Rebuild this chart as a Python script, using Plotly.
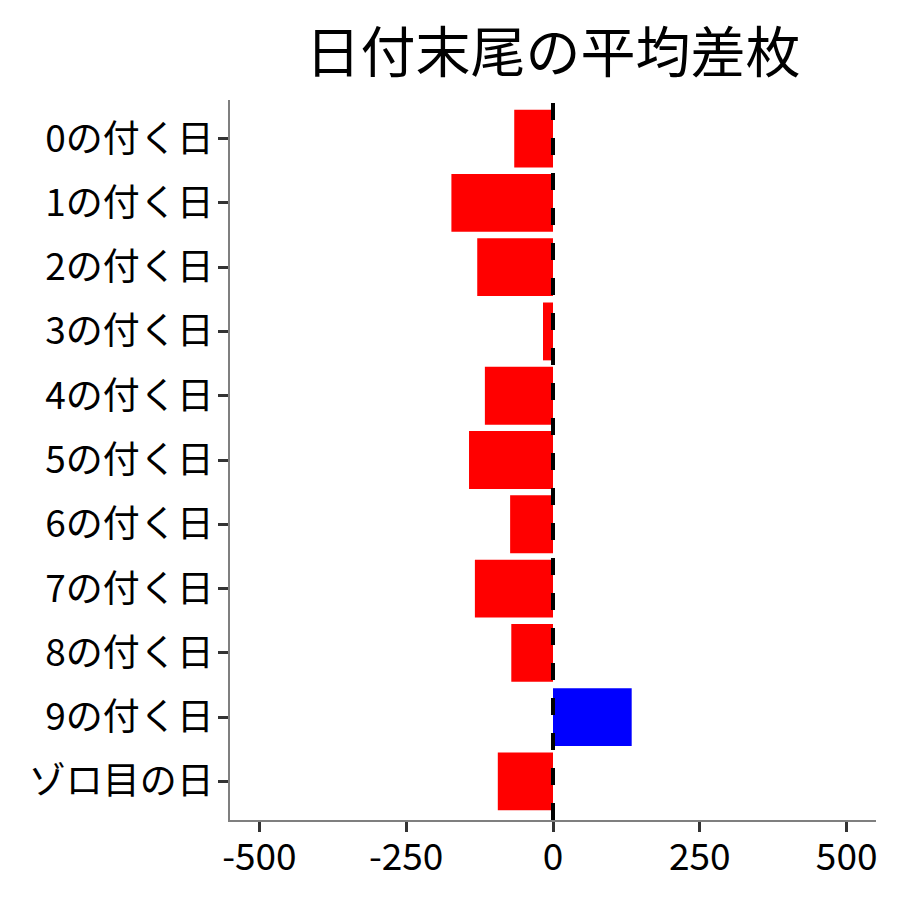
import plotly.graph_objects as go

# 日付末尾ごとの平均差枚
categories = [
    "0の付く日", "1の付く日", "2の付く日", "3の付く日", "4の付く日",
    "5の付く日", "6の付く日", "7の付く日", "8の付く日", "9の付く日",
    "ゾロ目の日",
]
avg_diff = [-66, -173, -129, -17, -116, -143, -73, -133, -71, 134, -94]
x_ticks = [-500, -250, 0, 250, 500]

FONT = "Noto Sans CJK JP"
colors = ["#0000FF" if v > 0 else "#FF0000" for v in avg_diff]

fig = go.Figure(go.Bar(
    x=avg_diff,
    y=categories,
    orientation="h",
    marker={"color": colors, "line": {"width": 0}},
    width=0.9,
    showlegend=False,
))

# zero reference line
fig.add_shape(
    type="line", xref="x", yref="paper",
    x0=0, x1=0, y0=0, y1=1,
    line={"color": "black", "width": 4, "dash": "17px,18px"},
    layer="above",
)

axis_common = dict(
    showline=True, linecolor="#7f7f7f", linewidth=1.5,
    ticks="outside", ticklen=10, tickwidth=3, tickcolor="#333333",
    showgrid=False, zeroline=False,
    tickfont={"family": FONT, "size": 37, "color": "black"},
)

fig.update_xaxes(
    range=[-550, 550], tickvals=x_ticks, ticktext=[str(t) for t in x_ticks],
    ticklabelstandoff=-6,
    **axis_common,
)
fig.update_yaxes(
    type="category", categoryorder="array", categoryarray=categories,
    range=[10.6, -0.6], ticklabelstandoff=-3,
    **axis_common,
)

fig.update_layout(
    width=900, height=900,
    title={
        "text": "日付末尾の平均差枚",
        "x": 0.5, "xref": "paper", "xanchor": "center",
        "y": 0.95, "yref": "container", "yanchor": "middle",
        "font": {"family": FONT, "size": 55, "color": "black"},
    },
    margin={"l": 222, "r": 32, "t": 92, "b": 88},
    plot_bgcolor="white", paper_bgcolor="white",
    bargap=0.1,
)

fig.write_html("out.html")
